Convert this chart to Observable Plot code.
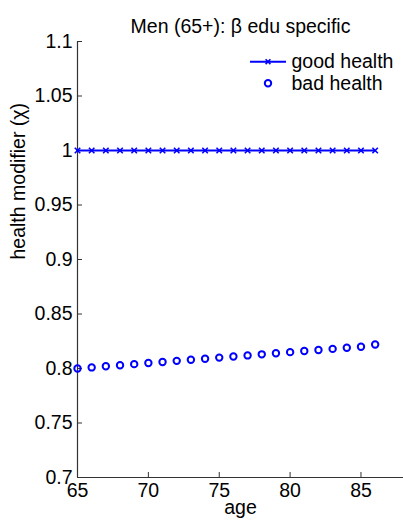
<!DOCTYPE html>
<html>
<head>
<meta charset="utf-8">
<script src="https://cdn.jsdelivr.net/npm/d3@7"></script>
<script src="https://cdn.jsdelivr.net/npm/@observablehq/plot@0.6"></script>
<style>
  html, body { margin: 0; padding: 0; background: #fff; }
  #chart { position: relative; width: 403px; height: 521px; overflow: hidden; }
  svg { font-family: "Liberation Sans", Arial, Helvetica, sans-serif; }
</style>
</head>
<body>
<div id="chart"></div>
<script>
// ---- data ----
const titleText = "Men (65+): \u03b2 edu specific";
const xLabel = "age";
const yLabel = "health modifier (\u03c7)";
const ages = [65,66,67,68,69,70,71,72,73,74,75,76,77,78,79,80,81,82,83,84,85,86];
const goodHealth = [1,1,1,1,1,1,1,1,1,1,1,1,1,1,1,1,1,1,1,1,1,1];
const badHealth = [0.800,0.801,0.802,0.803,0.804,0.805,0.806,0.807,0.808,0.809,0.810,0.811,0.812,0.813,0.814,0.815,0.816,0.817,0.818,0.819,0.820,0.822];
const seriesNames = ["good health", "bad health"];
const xTicks = [65,70,75,80,85];
const yTicks = [0.7,0.75,0.8,0.85,0.9,0.95,1,1.05,1.1];
const yTickLabels = ["0.7","0.75","0.8","0.85","0.9","0.95","1","1.05","1.1"];
const xDomain = [65, 88];
const yDomain = [0.7, 1.1];

const good = ages.map((a, i) => ({age: a, v: goodHealth[i]}));
const bad = ages.map((a, i) => ({age: a, v: badHealth[i]}));

const blue = "#0000ff";
const axisColor = "#333";
const fs = 19.5;

const plot = Plot.plot({
  width: 403,
  height: 521,
  marginTop: 41,
  marginBottom: 44,
  marginLeft: 77,
  marginRight: 0,
  style: {fontFamily: '"Liberation Sans", Arial, sans-serif', fontSize: fs + "px", color: "#000", background: "#fff", overflow: "visible"},
  x: {domain: xDomain, ticks: xTicks},
  y: {domain: yDomain, ticks: yTicks},
  marks: [
    Plot.ruleX([xDomain[0]], {stroke: axisColor, strokeWidth: 1.2}),
    Plot.ruleY([yDomain[0]], {stroke: axisColor, strokeWidth: 1.2}),
    // inward ticks
    Plot.axisY(yTicks, {tickSize: 5, dx: 5, text: null, label: null, stroke: axisColor}),
    Plot.axisX(xTicks, {tickSize: 5, dy: -5, text: null, label: null, stroke: axisColor}),
    // tick labels
    Plot.axisY(yTicks, {tickSize: 0, tickPadding: 5, label: null, tickFormat: (d) => yTickLabels[yTicks.indexOf(d)], fill: "#000", fontSize: fs}),
    Plot.axisX(xTicks, {tickSize: 0, tickPadding: 6, label: null, fill: "#000", fontSize: fs}),
    // data
    Plot.line(good, {x: "age", y: "v", stroke: blue, strokeWidth: 2}),
    Plot.dot(good, {x: "age", y: "v", symbol: "times", r: 2.6, stroke: blue, strokeWidth: 1.6}),
    Plot.dot(bad, {x: "age", y: "v", symbol: "circle", r: 3.2, stroke: blue, strokeWidth: 2, fill: "none"}),
    // labels
    Plot.text([titleText], {frameAnchor: "top", dy: -22, fontSize: fs, fill: "#000"}),
    Plot.text([xLabel], {frameAnchor: "bottom", dy: 36, fontSize: fs, fill: "#000"}),
    Plot.text([yLabel], {frameAnchor: "left", dx: -59, rotate: -90, fontSize: fs, fill: "#000"})
  ]
});

document.getElementById("chart").appendChild(plot);

// legend overlay (layout positions only)
const svg = d3.select(plot);
const lg = svg.append("g")
  .attr("font-size", fs + "px")
  .attr("font-family", '"Liberation Sans", Arial, sans-serif')
  .attr("text-anchor", "start");
const rowY = [61.7, 83.3];
const lineX0 = 250, lineX1 = 286, markX = 268, textX = 291.5;
seriesNames.forEach((name, i) => {
  const y = rowY[i];
  if (i === 0) {
    lg.append("line").attr("x1", lineX0).attr("x2", lineX1).attr("y1", y).attr("y2", y)
      .attr("stroke", blue).attr("stroke-width", 2);
    const s = 2.4;
    lg.append("path").attr("d", `M${markX - s},${y - s}L${markX + s},${y + s}M${markX - s},${y + s}L${markX + s},${y - s}`)
      .attr("stroke", blue).attr("stroke-width", 1.6).attr("fill", "none");
  } else {
    lg.append("circle").attr("cx", markX).attr("cy", y).attr("r", 3.2)
      .attr("stroke", blue).attr("stroke-width", 2).attr("fill", "none");
  }
  lg.append("text").attr("x", textX).attr("y", y).attr("dy", "0.32em")
    .attr("text-anchor", "start").attr("fill", "#000").text(name);
});
</script>
</body>
</html>
